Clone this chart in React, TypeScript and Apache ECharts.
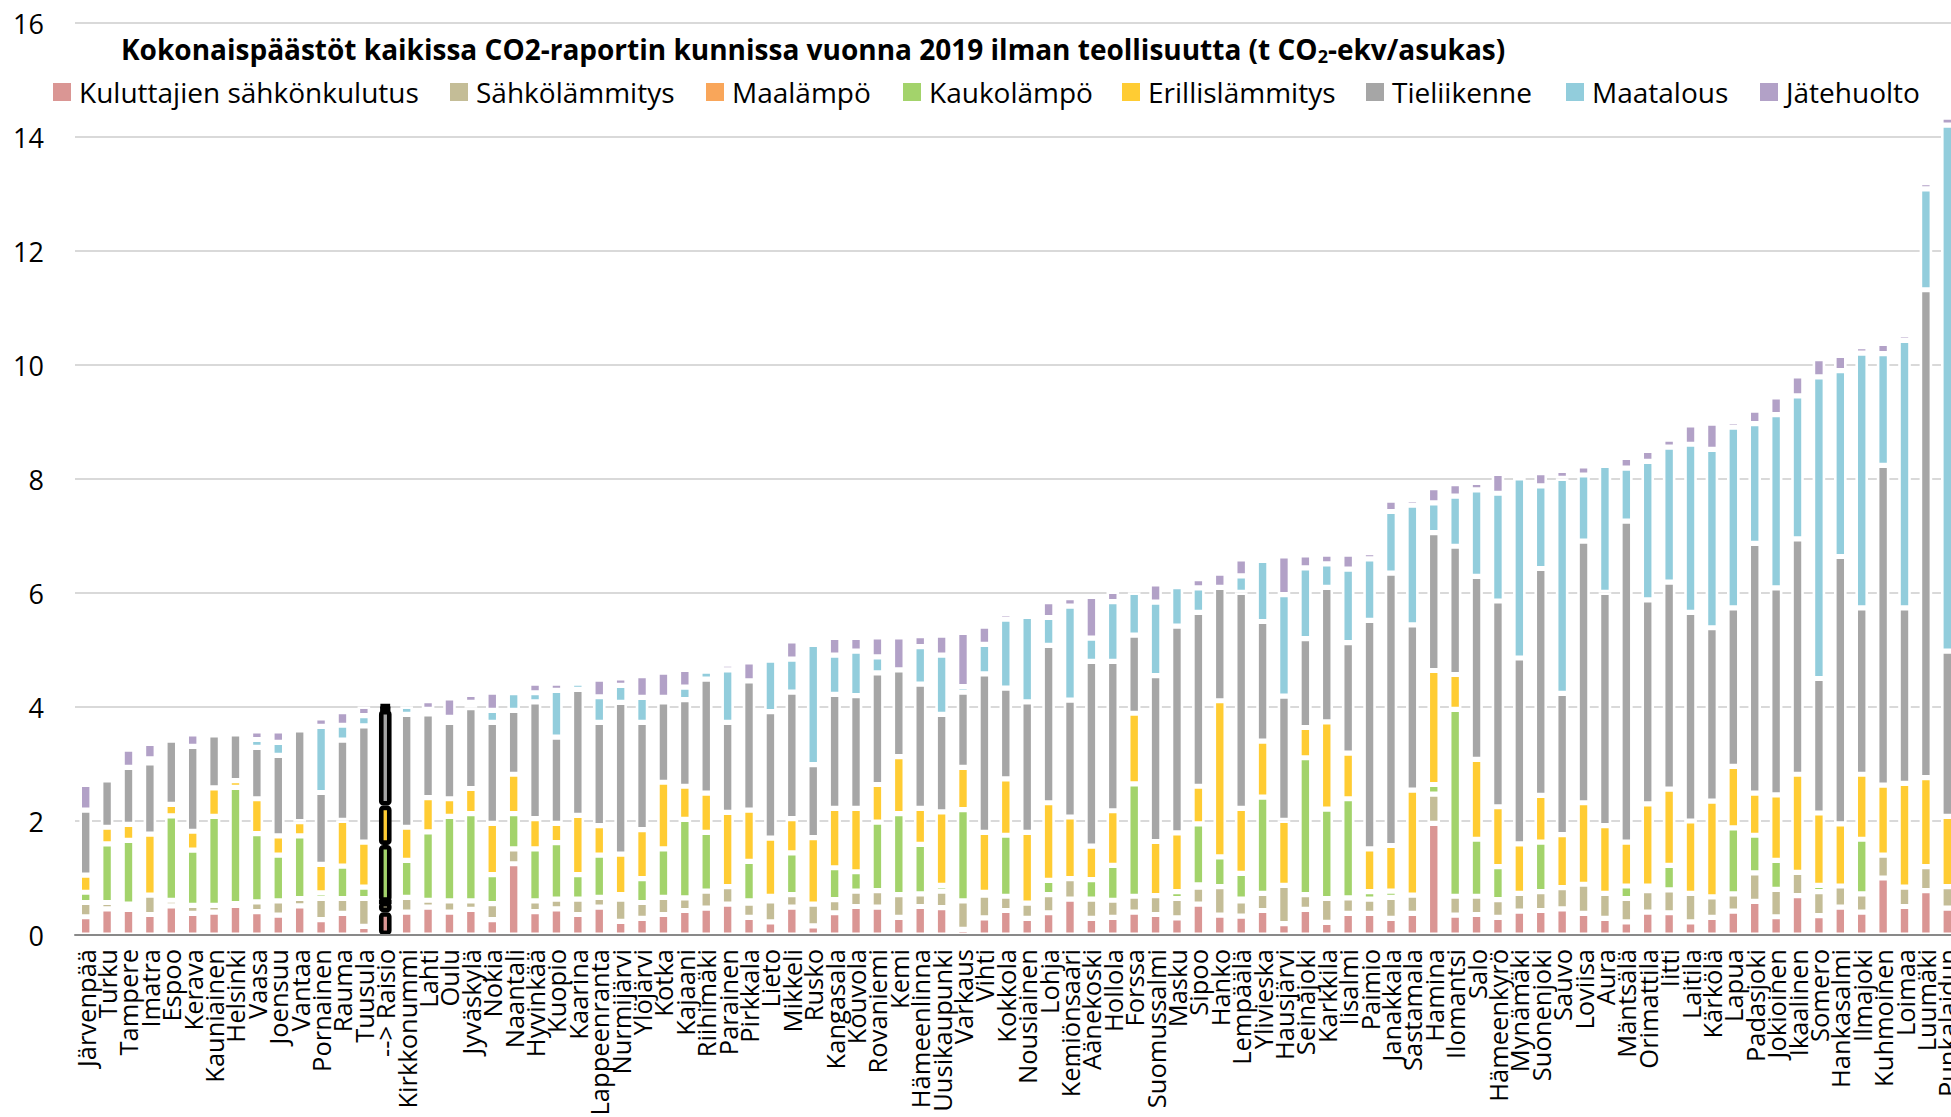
import React, { useEffect, useRef } from "react";
import * as echarts from "echarts";

const categories = [
  "Järvenpää", "Turku", "Tampere", "Imatra", "Espoo", "Kerava", "Kauniainen", "Helsinki", "Vaasa", "Joensuu",
  "Vantaa", "Pornainen", "Rauma", "Tuusula", "--> Raisio", "Kirkkonummi", "Lahti", "Oulu", "Jyväskylä", "Nokia",
  "Naantali", "Hyvinkää", "Kuopio", "Kaarina", "Lappeenranta", "Nurmijärvi", "Ylöjärvi", "Kotka", "Kajaani", "Riihimäki",
  "Parainen", "Pirkkala", "Lieto", "Mikkeli", "Rusko", "Kangasala", "Kouvola", "Rovaniemi", "Kemi", "Hämeenlinna",
  "Uusikaupunki", "Varkaus", "Vihti", "Kokkola", "Nousiainen", "Lohja", "Kemiönsaari", "Äänekoski", "Hollola", "Forssa",
  "Suomussalmi", "Masku", "Sipoo", "Hanko", "Lempäälä", "Ylivieska", "Hausjärvi", "Seinäjoki", "Karkkila", "Iisalmi",
  "Paimio", "Janakkala", "Sastamala", "Hamina", "Ilomantsi", "Salo", "Hämeenkyrö", "Mynämäki", "Suonenjoki", "Sauvo",
  "Loviisa", "Aura", "Mäntsälä", "Orimattila", "Iitti", "Laitila", "Kärkölä", "Lapua", "Padasjoki", "Jokioinen",
  "Ikaalinen", "Somero", "Hankasalmi", "Ilmajoki", "Kuhmoinen", "Loimaa", "Luumäki", "Punkalaidun",
];

const sahkonkulutus = [
  0.32, 0.46, 0.45, 0.36, 0.51, 0.38, 0.40, 0.52, 0.41, 0.35, 0.51, 0.27, 0.38, 0.15, 0.40, 0.40, 0.49, 0.40, 0.45, 0.27,
  1.25, 0.41, 0.46, 0.36, 0.49, 0.24, 0.29, 0.36, 0.43, 0.47, 0.54, 0.31, 0.23, 0.49, 0.16, 0.39, 0.50, 0.49, 0.31, 0.50,
  0.48, 0.10, 0.30, 0.43, 0.29, 0.39, 0.63, 0.29, 0.31, 0.40, 0.36, 0.30, 0.54, 0.35, 0.33, 0.43, 0.20, 0.45, 0.22, 0.38,
  0.38, 0.29, 0.38, 1.96, 0.35, 0.36, 0.31, 0.42, 0.43, 0.46, 0.38, 0.29, 0.23, 0.40, 0.39, 0.23, 0.31, 0.42, 0.59, 0.32,
  0.69, 0.34, 0.49, 0.40, 1.00, 0.50, 0.78, 0.47,
];
const sahkolammitys = [
  0.25, 0.11, 0.09, 0.34, 0.10, 0.14, 0.12, 0.03, 0.17, 0.25, 0.13, 0.37, 0.26, 0.49, 0.18, 0.26, 0.12, 0.20, 0.15, 0.28,
  0.26, 0.19, 0.17, 0.27, 0.17, 0.39, 0.28, 0.30, 0.22, 0.30, 0.31, 0.25, 0.37, 0.22, 0.38, 0.23, 0.27, 0.29, 0.40, 0.22,
  0.29, 0.50, 0.40, 0.25, 0.27, 0.32, 0.36, 0.34, 0.30, 0.28, 0.33, 0.34, 0.30, 0.50, 0.27, 0.30, 0.67, 0.26, 0.42, 0.27,
  0.25, 0.37, 0.32, 0.51, 0.33, 0.32, 0.31, 0.31, 0.33, 0.37, 0.51, 0.44, 0.41, 0.38, 0.40, 0.50, 0.36, 0.30, 0.50, 0.48,
  0.41, 0.42, 0.37, 0.32, 0.40, 0.34, 0.42, 0.38,
];
const maalampo = [
  0, 0, 0, 0, 0, 0, 0, 0, 0, 0, 0, 0, 0, 0, 0, 0, 0, 0, 0, 0,
  0, 0, 0, 0, 0, 0, 0, 0, 0, 0, 0, 0.04, 0, 0, 0, 0, 0, 0, 0, 0,
  0, 0, 0, 0, 0, 0, 0, 0, 0, 0, 0, 0, 0.04, 0, 0.03, 0, 0, 0, 0, 0,
  0, 0, 0, 0, 0, 0, 0, 0, 0, 0, 0, 0, 0, 0, 0, 0, 0, 0, 0, 0,
  0, 0, 0, 0, 0, 0, 0, 0,
];
const kaukolampo = [
  0.18, 1.03, 1.12, 0, 1.48, 0.97, 1.56, 2.04, 1.20, 0.80, 1.10, 0.10, 0.57, 0.20, 1.00, 0.65, 1.20, 1.48, 1.53, 0.51,
  0.62, 0.91, 0.99, 0.43, 0.74, 0.08, 0.42, 0.85, 1.38, 1.03, 0, 0.69, 0.08, 0.73, 0, 0.56, 0.34, 1.20, 1.42, 0.87,
  0.10, 1.60, 0.05, 1.07, 0, 0.25, 0, 0.34, 0.61, 1.97, 0, 0.12, 1.07, 0.52, 0.45, 1.69, 0, 2.40, 1.57, 1.74,
  0.13, 0.11, 0, 0.17, 3.28, 1.00, 0.58, 0, 0.87, 0, 0, 0, 0.22, 0.08, 0.43, 0, 0, 1.16, 0.66, 0.51,
  0, 0.11, 0, 0.96, 0, 0, 0, 0,
];
const erillislammitys = [
  0.30, 0.29, 0.28, 1.07, 0.20, 0.33, 0.50, 0.12, 0.61, 0.34, 0.25, 0.50, 0.80, 0.79, 0.69, 0.58, 0.60, 0.31, 0.44, 0.90,
  0.69, 0.53, 0.34, 1.04, 0.52, 0.71, 0.86, 1.17, 0.58, 0.69, 1.30, 0.90, 1.02, 0.60, 1.17, 1.04, 1.11, 0.66, 1.00, 0.63,
  1.29, 0.74, 1.05, 0.99, 1.24, 1.36, 1.08, 0.59, 0.96, 1.24, 0.95, 1.03, 0.66, 2.74, 1.14, 0.98, 1.14, 0.53, 1.53, 0.80,
  0.75, 0.80, 1.84, 2.00, 0.61, 1.40, 1.05, 0.87, 0.82, 0.93, 1.43, 1.19, 0.77, 1.44, 1.34, 1.27, 1.68, 1.08, 0.74, 1.15,
  1.72, 1.27, 1.09, 1.14, 1.23, 1.82, 1.56, 1.23,
];
const tieliikenne = [
  1.14, 0.83, 1.00, 1.25, 1.13, 1.49, 0.93, 0.82, 0.90, 1.41, 1.61, 1.26, 1.41, 2.04, 1.68, 1.98, 1.47, 1.34, 1.42, 1.77,
  1.12, 2.05, 1.51, 2.21, 1.81, 2.66, 1.88, 1.41, 1.52, 2.00, 1.58, 2.27, 2.22, 2.22, 1.28, 2.00, 1.98, 1.96, 1.52, 2.18,
  1.71, 1.32, 2.78, 1.59, 2.29, 2.76, 2.05, 3.24, 2.62, 1.37, 2.91, 3.63, 3.05, 1.99, 3.79, 2.10, 2.18, 1.56, 2.36, 1.94,
  4.01, 4.78, 2.90, 2.42, 2.25, 3.21, 3.61, 3.26, 3.98, 2.48, 4.59, 4.09, 5.63, 3.58, 3.63, 3.66, 3.04, 2.78, 4.38, 3.63,
  4.13, 2.36, 4.69, 2.92, 5.61, 3.08, 8.56, 2.90,
];
const maatalous = [
  0, 0, 0, 0.07, 0, 0, 0, 0, 0.14, 0.23, 0, 1.16, 0.26, 0.18, 0.04, 0.14, 0.08, 0.09, 0.09, 0.21,
  0.31, 0.16, 0.82, 0.11, 0.45, 0.30, 0.44, 0.08, 0.22, 0.14, 0.92, 0, 0.90, 0.58, 2.11, 0.69, 0.78, 0.28, 0, 0.66,
  1.04, 0.10, 0.52, 1.21, 1.50, 0.49, 1.65, 0.41, 1.05, 0.75, 1.29, 0.69, 0.43, 0, 0.29, 1.07, 1.78, 1.24, 0.41, 1.29,
  1.08, 1.08, 2.10, 0.52, 0.88, 1.52, 1.89, 3.16, 1.45, 3.77, 1.16, 2.23, 0.93, 2.43, 2.37, 2.95, 3.13, 3.17, 2.10, 3.04,
  2.51, 5.29, 3.26, 4.47, 1.96, 4.69, 1.77, 9.23,
];
const jatehuolto = [
  0.45, 0.07, 0.32, 0.27, 0.07, 0.22, 0.07, 0.07, 0.15, 0.20, 0.07, 0.15, 0.24, 0.16, 0.05, 0.07, 0.15, 0.34, 0.14, 0.32,
  0.07, 0.17, 0.13, 0.07, 0.31, 0.13, 0.38, 0.44, 0.31, 0.08, 0.10, 0.33, 0.07, 0.32, 0.07, 0.31, 0.24, 0.35, 0.58, 0.19,
  0.35, 0.95, 0.32, 0.10, 0.08, 0.28, 0.15, 0.73, 0.18, 0.08, 0.32, 0.07, 0.16, 0.25, 0.30, 0.07, 0.68, 0.23, 0.17, 0.26,
  0.11, 0.20, 0.10, 0.27, 0.22, 0.13, 0.35, 0.09, 0.23, 0.14, 0.16, 0.07, 0.19, 0.19, 0.14, 0.34, 0.46, 0.10, 0.24, 0.31,
  0.35, 0.32, 0.27, 0.11, 0.18, 0.10, 0.11, 0.14,
];

const seriesNames = [
  "Kuluttajien sähkönkulutus", "Sähkölämmitys", "Maalämpö", "Kaukolämpö",
  "Erillislämmitys", "Tieliikenne", "Maatalous", "Jätehuolto",
];
const seriesData = [sahkonkulutus, sahkolammitys, maalampo, kaukolampo, erillislammitys, tieliikenne, maatalous, jatehuolto];
const seriesColors = ["#DA9694", "#C4BD97", "#F9A65A", "#A3D36B", "#FFCC33", "#A6A6A6", "#92CDDC", "#B2A1C7"];
const legendLefts = [53, 450, 706, 903, 1122, 1366, 1566, 1760];

const yTicks = { min: 0, max: 16, interval: 2 };
const highlighted = "--> Raisio";
const titleParts = ["Kokonaispäästöt kaikissa CO2-raportin kunnissa vuonna 2019 ilman teollisuutta (t CO", "2", "-ekv/asukas)"];

const FONT = "'Open Sans', sans-serif";

export default function App() {
  const ref = useRef<HTMLDivElement>(null);

  useEffect(() => {
    document.documentElement.style.overflow = "hidden";
    document.body.style.margin = "0";
    document.body.style.overflow = "hidden";
    if (!ref.current) return;
    const chart = echarts.init(ref.current, null, { renderer: "svg" });
    const hi = categories.indexOf(highlighted);

    const series = seriesNames.map((name, k) => ({
      name,
      type: "bar",
      stack: "total",
      barWidth: 12.6,
      itemStyle: { color: seriesColors[k], borderColor: "#ffffff", borderWidth: 2.6 },
      emphasis: { disabled: true },
      data: seriesData[k].map((v, i) =>
        i === hi
          ? { value: v, itemStyle: { borderColor: "#000000", borderWidth: 4.6, borderRadius: 2 } }
          : v
      ),
    }));

    const legends = seriesNames.map((name, k) => ({
      data: [name],
      left: legendLefts[k],
      top: 78,
      padding: 0,
      icon: "rect",
      itemWidth: 18,
      itemHeight: 18,
      itemStyle: { borderWidth: 0 },
      selectedMode: false,
      textStyle: { fontSize: 28, color: "#000", fontFamily: FONT, padding: [0, 0, 0, 3] },
    }));

    chart.setOption({
      animation: false,
      textStyle: { fontFamily: FONT },
      grid: {
        left: 75,
        top: 23,
        width: 1883,
        height: 912,
        containLabel: false,
        outerBoundsMode: "none",
      },
      legend: legends,
      graphic: [
        {
          type: "text",
          left: 121,
          top: 35,
          style: {
            text: `{a|${titleParts[0]}}{s|${titleParts[1]}}{a|${titleParts[2]}}`,
            rich: {
              a: { fontSize: 28, fontWeight: "bold", fill: "#000", fontFamily: FONT },
              s: { fontSize: 18, fontWeight: "bold", fill: "#000", fontFamily: FONT, padding: [14, 0, 0, 0] },
            },
          },
        },
      ],
      xAxis: {
        type: "category",
        data: categories,
        z: 10,
        axisLine: { lineStyle: { color: "#898989", width: 2 } },
        axisTick: { show: false },
        axisLabel: { rotate: 90, interval: 0, fontSize: 25.5, color: "#000", margin: 14, fontFamily: FONT },
      },
      yAxis: {
        type: "value",
        min: yTicks.min,
        max: yTicks.max,
        interval: yTicks.interval,
        axisLine: { show: false },
        axisTick: { show: false },
        axisLabel: { fontSize: 27, color: "#000", margin: 31, fontFamily: FONT },
        splitLine: { lineStyle: { color: "#d9d9d9", width: 2 } },
      },
      series,
    });
    return () => chart.dispose();
  }, []);

  return (
    <div
      style={{ position: "fixed", left: 0, top: 0, width: 1951, height: 1117, overflow: "hidden", background: "#fff" }}
    >
      <div ref={ref} style={{ width: 1951, height: 1117 }} />
    </div>
  );
}
